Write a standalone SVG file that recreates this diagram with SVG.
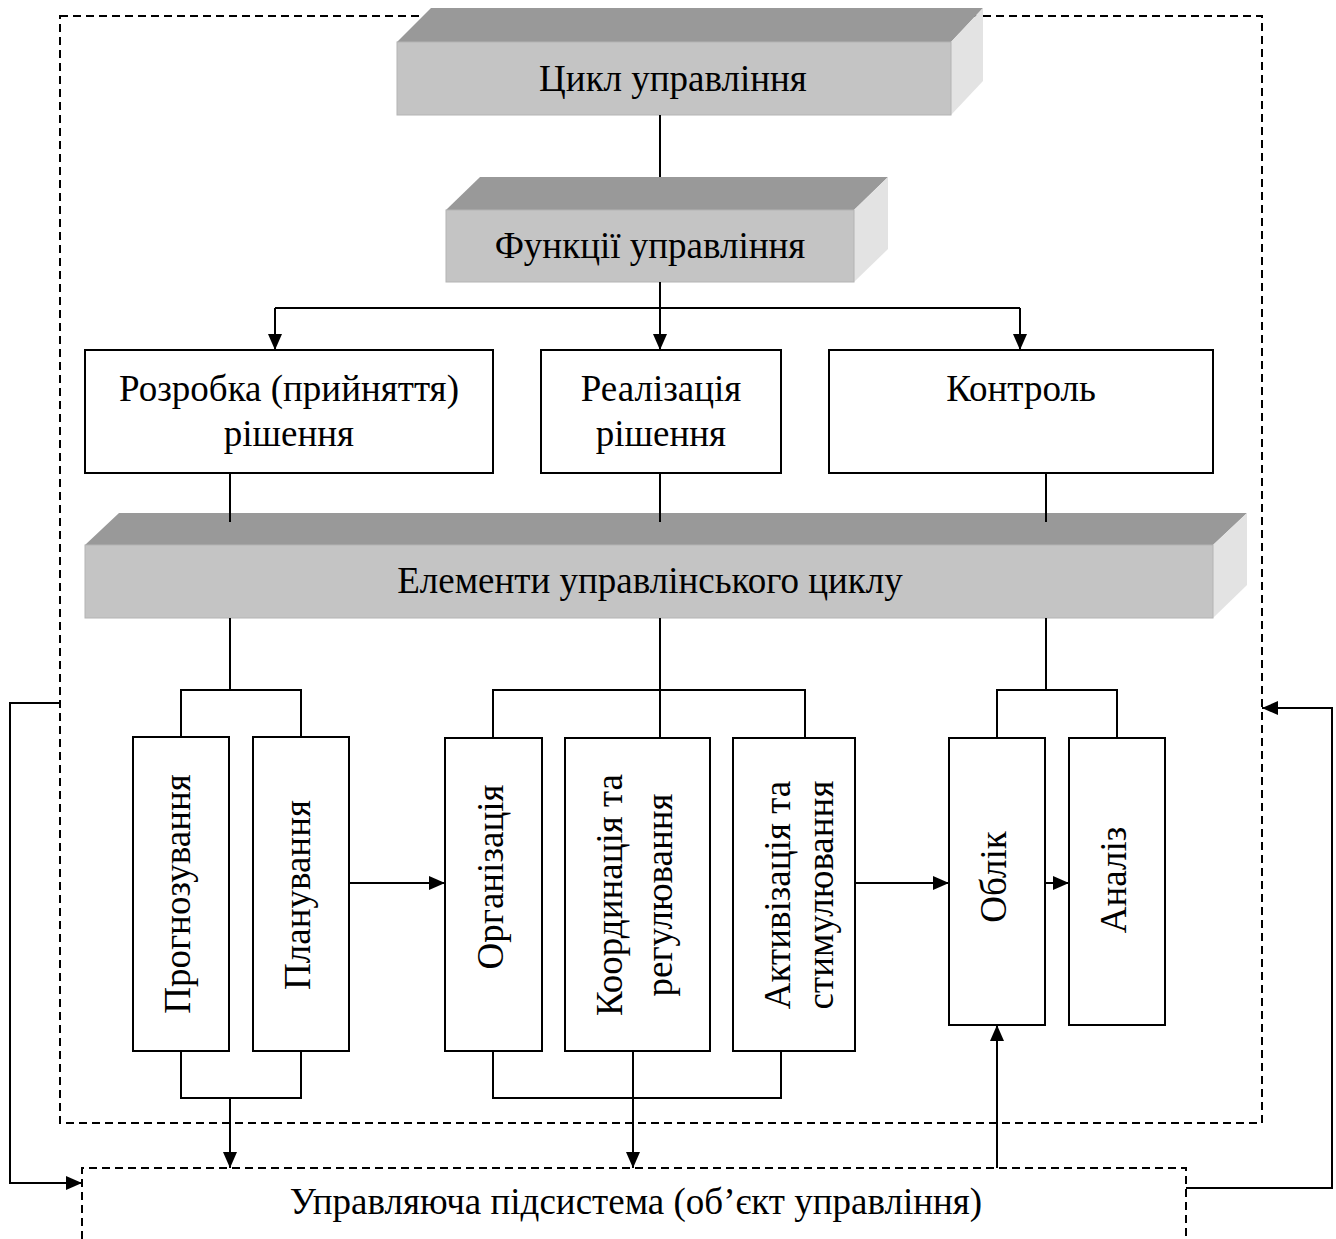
<svg xmlns="http://www.w3.org/2000/svg" width="1336" height="1239" viewBox="0 0 1336 1239">
<style>
text{font-family:"Liberation Serif","Times New Roman",serif;font-size:37px;fill:#000;text-anchor:middle}
.ln{stroke:#000;stroke-width:2;fill:none}
.dash{stroke:#000;stroke-width:2;fill:none;stroke-dasharray:8,5}
.box{stroke:#000;stroke-width:2;fill:#fff}
.top{fill:#999999}
.front{fill:#c4c4c4;stroke:#b4b4b4;stroke-width:1}
.side{fill:#e3e3e3}
</style>
<defs>
<marker id="ar" markerWidth="16" markerHeight="14" refX="16" refY="7" orient="auto" markerUnits="userSpaceOnUse">
<path d="M0,0 L16,7 L0,14 Z" fill="#000"/>
</marker>
</defs>
<rect x="60" y="16" width="1202" height="1107" class="dash"/>
<g id="cycle">
<polygon class="top" points="397,42 431,8 983,8 951,42"/>
<polygon class="side" points="951,42 983,8 983,81 951,115"/>
<rect class="front" x="397" y="42" width="554" height="73"/>
<text x="673" y="91">Цикл управління</text>
</g>
<g id="functions">
<polygon class="top" points="446,210 480,177 888,177 854,210"/>
<polygon class="side" points="854,210 888,177 888,249 854,282"/>
<rect class="front" x="446" y="210" width="408" height="72"/>
<text x="650" y="258">Функції управління</text>
</g>
<g id="elements">
<polygon class="top" points="85,545 119,513 1247,513 1213,545"/>
<polygon class="side" points="1213,545 1247,513 1247,585 1213,618"/>
<rect class="front" x="85" y="545" width="1128" height="73"/>
<text x="650" y="593">Елементи управлінського циклу</text>
</g>
<g id="develop">
<rect class="box" x="85" y="350" width="408" height="123"/>
<text x="289" y="401">Розробка (прийняття)</text>
<text x="289" y="446">рішення</text>
</g>
<g id="implement">
<rect class="box" x="541" y="350" width="240" height="123"/>
<text x="661" y="401">Реалізація</text>
<text x="661" y="446">рішення</text>
</g>
<g id="control">
<rect class="box" x="829" y="350" width="384" height="123"/>
<text x="1021" y="401">Контроль</text>
</g>
<g id="forecast">
<rect class="box" x="133" y="737" width="96" height="314"/>
<text transform="translate(190,894) rotate(-90)">Прогнозування</text>
</g>
<g id="planning">
<rect class="box" x="253" y="737" width="96" height="314"/>
<text transform="translate(310,895) rotate(-90)">Планування</text>
</g>
<g id="organization">
<rect class="box" x="445" y="738" width="97" height="313"/>
<text transform="translate(503,877) rotate(-90)">Організація</text>
</g>
<g id="coordination">
<rect class="box" x="565" y="738" width="145" height="313"/>
<text transform="translate(622,895) rotate(-90)">Координація та</text>
<text transform="translate(672,895) rotate(-90)">регулювання</text>
</g>
<g id="activation">
<rect class="box" x="733" y="738" width="122" height="313"/>
<text transform="translate(790,895) rotate(-90)">Активізація та</text>
<text transform="translate(833,895) rotate(-90)">стимулювання</text>
</g>
<g id="accounting">
<rect class="box" x="949" y="738" width="96" height="287"/>
<text transform="translate(1006,877) rotate(-90)">Облік</text>
</g>
<g id="analysis">
<rect class="box" x="1069" y="738" width="96" height="287"/>
<text transform="translate(1126,880) rotate(-90)">Аналіз</text>
</g>
<g id="subsystem">
<path class="dash" d="M82,1239 V1168 H1186 V1239"/>
<text x="636" y="1214">Управляюча підсистема (об’єкт управління)</text>
</g>
<g id="connectors">
<path class="ln" d="M660,115 V177"/>
<path class="ln" d="M660,282 V308"/>
<path class="ln" d="M275,308 H1020"/>
<path class="ln" d="M275,308 V350" marker-end="url(#ar)"/>
<path class="ln" d="M660,308 V350" marker-end="url(#ar)"/>
<path class="ln" d="M1020,308 V350" marker-end="url(#ar)"/>
<path class="ln" d="M230,473 V522"/>
<path class="ln" d="M660,473 V522"/>
<path class="ln" d="M1046,473 V522"/>
<path class="ln" d="M230,618 V690 M181,737 V690 H301 V737"/>
<path class="ln" d="M660,618 V738 M493,738 V690 H805 V738"/>
<path class="ln" d="M1046,618 V690 M997,738 V690 H1117 V738"/>
<path class="ln" d="M181,1051 V1098 H301 V1051"/>
<path class="ln" d="M493,1051 V1098 H781 V1051"/>
<path class="ln" d="M230,1098 V1168" marker-end="url(#ar)"/>
<path class="ln" d="M633,1051 V1168" marker-end="url(#ar)"/>
<path class="ln" d="M997,1168 V1025" marker-end="url(#ar)"/>
<path class="ln" d="M349,883 H445" marker-end="url(#ar)"/>
<path class="ln" d="M855,883 H949" marker-end="url(#ar)"/>
<path class="ln" d="M1045,883 H1069" marker-end="url(#ar)"/>
<path class="ln" d="M60,703 H10 V1183 H82" marker-end="url(#ar)"/>
<path class="ln" d="M1186,1188 H1332 V708 H1262" marker-end="url(#ar)"/>
</g>
</svg>
